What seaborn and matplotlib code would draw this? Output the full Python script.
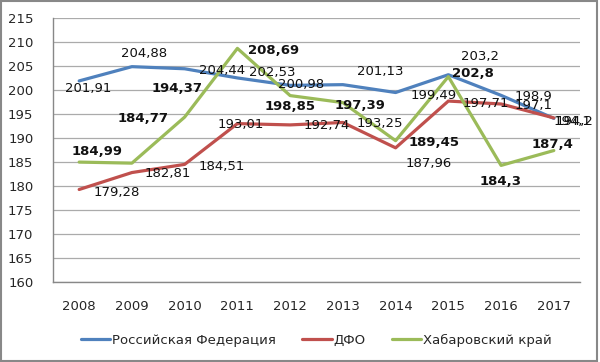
import pandas as pd
import seaborn as sns
import matplotlib.pyplot as plt
from matplotlib.patches import Rectangle
from matplotlib.ticker import MultipleLocator

years = [2008, 2009, 2010, 2011, 2012, 2013, 2014, 2015, 2016, 2017]
series_names = ['Российская Федерация', 'ДФО', 'Хабаровский край']
rf_values = [201.91, 204.88, 204.44, 202.53, 200.98, 201.13, 199.49, 203.2, 198.9, 194.1]
dfo_values = [179.28, 182.81, 184.51, 193.01, 192.74, 193.25, 187.96, 197.71, 197.1, 194.2]
khab_values = [184.99, 184.77, 194.37, 208.69, 198.85, 197.39, 189.45, 202.8, 184.3, 187.4]
colors = ['#4F81BD', '#C0504D', '#9BBB59']

# label offsets in pixels (labels were hand-placed)
rf_offsets = [(9, -8), (12, 13), (37, -2), (35, 5), (11, 1), (37, 13), (38, -3), (32, 18), (32, -1), (19, -3)]
dfo_offsets = [(38, -3), (36, -1), (37, -2), (3, -1), (37, -1), (37, -1), (33, -16), (37, -2), (32, -2), (21, -4)]
khab_offsets = [(18, 11), (11, 45), (-8, 29), (36, -2), (0, -11), (17, -3), (38, -2), (25, 3), (-1, -16), (-1, 6)]


def fmt(v):
    return f"{v:.2f}".rstrip('0').rstrip('.').replace('.', ',')


def main():
    df = pd.DataFrame({
        'year': years * 3,
        'value': rf_values + dfo_values + khab_values,
        'series': [series_names[0]] * 10 + [series_names[1]] * 10 + [series_names[2]] * 10,
    })

    sns.set_style('white')
    plt.rcParams['font.family'] = ['DejaVu Sans']
    fig = plt.figure(figsize=(6, 3.62), dpi=100)
    ax = fig.add_axes([0.088, 0.221, 0.879, 0.729])

    sns.lineplot(data=df, x='year', y='value', hue='series', hue_order=series_names,
                 palette=colors, linewidth=2.3, ax=ax, legend=True)

    ax.set_xlim(2007.5, 2017.5)
    ax.set_ylim(160, 215)
    ax.yaxis.set_major_locator(MultipleLocator(5))
    ax.set_xticks(years)
    ax.set_xticklabels([str(y) for y in years])
    ax.set_xticks([y - 0.5 for y in years] + [2017.5], minor=True)
    ax.tick_params(axis='x', which='major', length=0, pad=13, labelsize=9.5)
    ax.tick_params(axis='x', which='minor', length=5, color='#888888', width=1, direction='out')
    ax.tick_params(axis='y', length=0, pad=14, labelsize=9.5)
    ax.grid(axis='y', color='#ABABAB', linewidth=0.9)
    ax.set_axisbelow(True)
    for s in ['top', 'right']:
        ax.spines[s].set_visible(False)
    for s in ['left', 'bottom']:
        ax.spines[s].set_color('#888888')
        ax.spines[s].set_linewidth(1)
    ax.set_xlabel('')
    ax.set_ylabel('')

    for vals, offs, bold in [(rf_values, rf_offsets, False),
                             (dfo_values, dfo_offsets, False),
                             (khab_values, khab_offsets, True)]:
        for x, v, (dx, dy) in zip(years, vals, offs):
            ax.annotate(fmt(v), (x, v), xytext=(dx, dy), textcoords='offset pixels',
                        ha='center', va='center', fontsize=9.5,
                        fontweight='bold' if bold else 'normal', color='#111111')

    leg = ax.legend(loc='center', bbox_to_anchor=(0.5, -58 / 264.0),
                    bbox_transform=ax.transAxes, ncol=3, frameon=False, fontsize=9.5,
                    handlelength=2.2, handletextpad=0.15, columnspacing=2.0)
    for line in leg.get_lines():
        line.set_linewidth(2.3)

    fig.patches.append(Rectangle((0.002, 0.004), 0.993, 0.993, transform=fig.transFigure,
                                 fill=False, edgecolor='#888888', linewidth=1.5))

    fig.savefig('out.png', dpi=100)
    plt.close(fig)


if __name__ == '__main__':
    main()
